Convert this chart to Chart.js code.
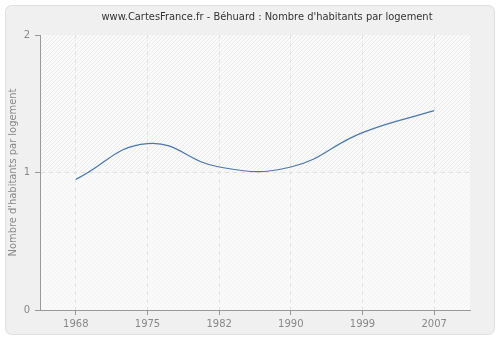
<!DOCTYPE html>
<html>
<head>
<meta charset="utf-8">
<script src="https://cdn.jsdelivr.net/npm/chart.js@4.4.0/dist/chart.umd.min.js"></script>
<style>
  html, body { margin: 0; padding: 0; background: #fff; }
  #wrap { width: 500px; height: 340px; }
</style>
</head>
<body>
<div id="wrap"><canvas id="myChart" width="500" height="340"></canvas></div>
<script>
// données
var years = ["1968", "1975", "1982", "1990", "1999", "2007"];
var values = [0.95, 1.21, 1.04, 1.04, 1.29, 1.45];
var yTicks = [0, 1, 2];
var titre = "www.CartesFrance.fr - Béhuard : Nombre d'habitants par logement";

function hachures(lineColor) {
  var p = document.createElement("canvas");
  p.width = 4; p.height = 4;
  var pc = p.getContext("2d");
  pc.fillStyle = "#fafafa";
  pc.fillRect(0, 0, 4, 4);
  pc.strokeStyle = lineColor;
  pc.lineWidth = 1;
  pc.beginPath();
  pc.moveTo(0, 4); pc.lineTo(4, 0);
  pc.moveTo(-1, 1); pc.lineTo(1, -1);
  pc.moveTo(3, 5); pc.lineTo(5, 3);
  pc.stroke();
  return p;
}

// fond du panneau + zone hachurée + titre
var backgroundPlugin = {
  id: "fond",
  beforeDraw: function (chart) {
    var ctx = chart.ctx;
    var a = chart.chartArea;
    var yMid = chart.scales.y.getPixelForValue(1);
    ctx.save();
    ctx.fillStyle = "#ffffff";
    ctx.fillRect(0, 0, chart.width, chart.height);
    ctx.beginPath();
    ctx.roundRect(5.5, 5.5, 489, 329, 6);
    ctx.fillStyle = "#f0f0f0";
    ctx.fill();
    ctx.strokeStyle = "#e0e0e0";
    ctx.lineWidth = 1;
    ctx.stroke();
    ctx.fillStyle = ctx.createPattern(hachures("#ebebeb"), "repeat");
    ctx.fillRect(a.left, a.top, a.right - a.left, yMid - a.top);
    ctx.fillStyle = ctx.createPattern(hachures("#f3f3f3"), "repeat");
    ctx.fillRect(a.left, yMid, a.right - a.left, a.bottom - yMid);
    ctx.fillStyle = "#333";
    ctx.font = "11px 'DejaVu Sans Condensed', 'DejaVu Sans'";
    ctx.textAlign = "center";
    ctx.textBaseline = "middle";
    ctx.fillText(titre, 267, 17);
    ctx.restore();
  }
};

var ctx = document.getElementById("myChart");
var chart = new Chart(ctx, {
  type: "line",
  data: {
    labels: years,
    datasets: [
      {
        label: "Nombre d'habitants par logement",
        data: values,
        borderColor: "#4b78ad",
        borderWidth: 1.2,
        pointRadius: 0,
        fill: false,
        tension: 0.45
      }
    ]
  },
  options: {
    responsive: false,
    animation: false,
    layout: { padding: { left: 0, right: 30, top: 35, bottom: 5 } },
    plugins: {
      legend: { display: false },
      tooltip: { enabled: false },
      title: { display: false }
    },
    scales: {
      x: {
        type: "category",
        offset: true,
        afterFit: function (scale) { scale.height = 25; },
        grid: {
          color: "#e0e0e0",
          tickColor: "#999",
          tickLength: 5,
          tickBorderDash: []
        },
        border: { display: true, color: "#999", dash: [4, 4] },
        ticks: {
          color: "#888",
          font: { family: "DejaVu Sans", size: 10 },
          padding: 3,
          maxRotation: 0
        }
      },
      y: {
        min: 0,
        max: 2,
        afterFit: function (scale) { scale.width = 40; },
        afterBuildTicks: function (scale) {
          scale.ticks = yTicks.map(function (v) { return { value: v }; });
        },
        grid: {
          color: function (c) { return c.tick && c.tick.value === 1 ? "#e0e0e0" : "rgba(0,0,0,0)"; },
          tickColor: "#999",
          tickLength: 5,
          tickBorderDash: []
        },
        border: { display: true, color: "#999", dash: [4, 4] },
        ticks: {
          color: "#888",
          font: { family: "DejaVu Sans", size: 10 },
          padding: 5
        },
        title: {
          display: true,
          text: "Nombre d'habitants par logement",
          color: "#888",
          font: { family: "DejaVu Sans Condensed", size: 11 },
          padding: { top: 7, bottom: 0 }
        }
      }
    }
  },
  plugins: [backgroundPlugin]
});
</script>
</body>
</html>
